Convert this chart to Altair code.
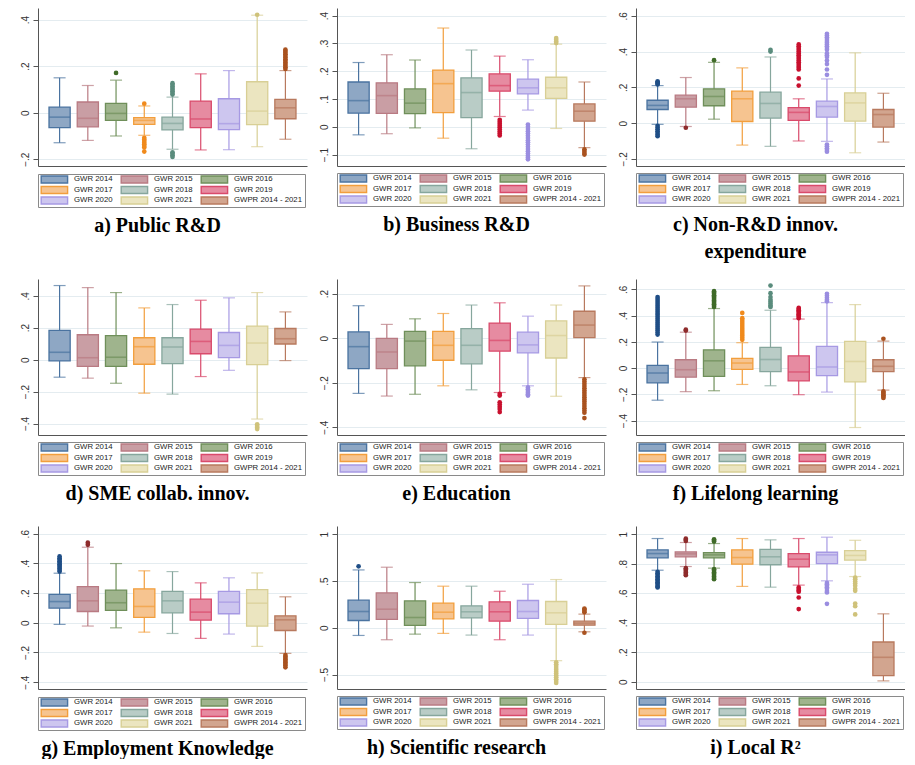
import altair as alt
import pandas as pd

SERIES = ["GWR 2014", "GWR 2015", "GWR 2016", "GWR 2017", "GWR 2018",
          "GWR 2019", "GWR 2020", "GWR 2021", "GWPR 2014 - 2021"]

FILL = ["#8ea7c4", "#c99ea4", "#9fb48d", "#f6c490", "#b9ccc6",
        "#e68ba1", "#cdc6ef", "#ebe5c0", "#d2a58f"]
LINE = ["#4a73a0", "#b97a82", "#6f8f5a", "#f29e3c", "#86a69d",
        "#d94a6b", "#a699e3", "#d8cf95", "#b8795e"]
DOT = ["#1f4e86", "#8e2b2b", "#3f6b28", "#f08a1c", "#5a8c7d",
       "#c8102e", "#9a8de0", "#cfc27a", "#a9521f"]

# each row: lower whisker, q1, median, q3, upper whisker
PUBLIC_RD = [[-0.129, -0.064, -0.019, 0.024, 0.150], [-0.119, -0.061, -0.024, 0.046, 0.117],
             [-0.100, -0.033, -0.003, 0.040, 0.140], [-0.097, -0.050, -0.033, -0.021, 0.029],
             [-0.157, -0.074, -0.046, -0.019, 0.067], [-0.160, -0.064, -0.027, 0.050, 0.167],
             [-0.159, -0.073, -0.047, 0.060, 0.181], [-0.146, -0.051, 0.007, 0.133, 0.419],
             [-0.114, -0.026, 0.021, 0.057, 0.181]]
PUBLIC_RD_OUT = [[], [], [0.171],
                 [0.039, -0.108, -0.115, -0.122, -0.129, -0.136, -0.143, -0.150, -0.167],
                 [0.078, 0.085, 0.092, 0.099, 0.106, 0.113, 0.120, 0.127, -0.170, -0.176, -0.183, -0.190],
                 [], [], [0.421],
                 [0.188, 0.195, 0.202, 0.209, 0.216, 0.223, 0.230, 0.237, 0.244, 0.251, 0.258, 0.265, 0.271]]

BUSINESS_RD = [[-0.029, 0.049, 0.094, 0.161, 0.231], [-0.025, 0.048, 0.112, 0.158, 0.259],
               [-0.004, 0.047, 0.085, 0.136, 0.240], [-0.041, 0.051, 0.155, 0.204, 0.355],
               [-0.079, 0.033, 0.123, 0.176, 0.276], [0.037, 0.128, 0.148, 0.190, 0.254],
               [0.060, 0.118, 0.140, 0.171, 0.241], [-0.006, 0.102, 0.140, 0.178, 0.297],
               [-0.075, 0.020, 0.056, 0.082, 0.161]]
BUSINESS_RD_OUT = [[], [], [], [], [],
                   [0.025, 0.018, 0.011, 0.004, -0.003, -0.010, -0.017, -0.024, -0.031],
                   [0.008, 0.0, -0.008, -0.016, -0.024, -0.032, -0.040, -0.048, -0.056, -0.064,
                    -0.072, -0.080, -0.088, -0.096, -0.104, -0.110, -0.117],
                   [0.301, 0.307, 0.313, 0.319],
                   [-0.081, -0.087, -0.094, -0.100]]

NONRD = [[-0.007, 0.076, 0.099, 0.128, 0.210], [-0.019, 0.089, 0.136, 0.156, 0.255],
         [0.022, 0.097, 0.149, 0.192, 0.340], [-0.123, 0.009, 0.136, 0.179, 0.309],
         [-0.130, 0.028, 0.110, 0.173, 0.370], [-0.100, 0.015, 0.060, 0.087, 0.136],
         [-0.102, 0.033, 0.093, 0.123, 0.247], [-0.166, 0.011, 0.113, 0.169, 0.393],
         [-0.106, -0.022, 0.048, 0.076, 0.167]]
NONRD_OUT = [[0.216, 0.222, 0.228, 0.234, -0.015, -0.025, -0.035, -0.045, -0.055, -0.065, -0.073],
             [-0.026], [0.352], [], [0.400, 0.410],
             [0.210, 0.250, 0.300, 0.310, 0.320, 0.330, 0.340, 0.350, 0.360, 0.370, 0.380, 0.390,
              0.400, 0.410, 0.420, 0.430, 0.440],
             [0.270, 0.300, 0.330, 0.350, 0.370, 0.380, 0.390, 0.410, 0.420, 0.430, 0.440, 0.450,
              0.460, 0.470, 0.480, 0.490, 0.500, -0.120, -0.130, -0.140, -0.150, -0.160],
             [], []]

SME = [[-0.110, -0.008, 0.046, 0.183, 0.464], [-0.116, -0.042, 0.012, 0.156, 0.451],
       [-0.148, -0.042, 0.015, 0.150, 0.420], [-0.210, -0.029, 0.081, 0.137, 0.324],
       [-0.216, -0.025, 0.079, 0.137, 0.345], [-0.106, 0.037, 0.114, 0.191, 0.372],
       [-0.067, 0.012, 0.089, 0.170, 0.387], [-0.372, -0.031, 0.104, 0.210, 0.420],
       [-0.006, 0.098, 0.131, 0.195, 0.299]]
SME_OUT = [[], [], [], [], [], [], [], [-0.405, -0.415, -0.425, -0.435], []]

EDUCATION = [[-0.248, -0.137, -0.038, 0.028, 0.146], [-0.260, -0.137, -0.062, -0.001, 0.062],
             [-0.252, -0.124, -0.013, 0.031, 0.087], [-0.214, -0.099, -0.032, 0.031, 0.111],
             [-0.232, -0.115, -0.032, 0.043, 0.149], [-0.244, -0.058, -0.010, 0.068, 0.159],
             [-0.214, -0.066, -0.030, 0.027, 0.099], [-0.261, -0.089, 0.012, 0.078, 0.149],
             [-0.177, 0.003, 0.059, 0.121, 0.235]]
EDUCATION_OUT = [[], [], [], [], [],
                 [-0.250, -0.258, -0.288, -0.298, -0.308, -0.318, -0.332],
                 [-0.221, -0.229, -0.237, -0.245, -0.252, -0.258],
                 [],
                 [-0.185, -0.195, -0.205, -0.215, -0.225, -0.235, -0.245, -0.255, -0.265, -0.275,
                  -0.285, -0.295, -0.305, -0.315, -0.325, -0.335, -0.359]]

LIFELONG = [[-0.245, -0.113, -0.038, 0.020, 0.198], [-0.180, -0.070, -0.013, 0.063, 0.273],
            [-0.173, -0.063, 0.055, 0.138, 0.453], [-0.125, -0.010, 0.038, 0.073, 0.193],
            [-0.135, -0.028, 0.065, 0.158, 0.440], [-0.203, -0.098, -0.030, 0.093, 0.373],
            [-0.183, -0.058, 0.008, 0.165, 0.498], [-0.453, -0.105, 0.050, 0.203, 0.483],
            [-0.168, -0.028, 0.013, 0.063, 0.205]]
LIFELONG_OUT = [[0.255, 0.27, 0.285, 0.30, 0.315, 0.33, 0.345, 0.36, 0.375, 0.39, 0.405, 0.42,
                 0.435, 0.45, 0.465, 0.48, 0.495, 0.51, 0.525, 0.54],
                [0.285, 0.292],
                [0.465, 0.475, 0.485, 0.495, 0.505, 0.515, 0.525, 0.535, 0.545, 0.555, 0.565, 0.575, 0.585],
                [0.215, 0.23, 0.245, 0.26, 0.275, 0.29, 0.305, 0.32, 0.335, 0.35, 0.365, 0.38, 0.42],
                [0.465, 0.475, 0.49, 0.505, 0.52, 0.54, 0.57, 0.628],
                [0.38, 0.39, 0.40, 0.41, 0.42, 0.43, 0.44, 0.45, 0.458],
                [0.508, 0.52, 0.535, 0.55, 0.565],
                [],
                [0.223, -0.178, -0.188, -0.198, -0.208, -0.218, -0.228]]

EMPLOYMENT = [[-0.011, 0.099, 0.143, 0.191, 0.334], [-0.022, 0.076, 0.148, 0.244, 0.509],
              [-0.034, 0.083, 0.135, 0.220, 0.399], [-0.063, 0.036, 0.110, 0.229, 0.350],
              [-0.072, 0.067, 0.148, 0.211, 0.345], [-0.105, 0.018, 0.072, 0.159, 0.269],
              [-0.076, 0.061, 0.139, 0.211, 0.303], [-0.159, -0.022, 0.132, 0.224, 0.336],
              [-0.206, -0.052, 0.020, 0.047, 0.175]]
EMPLOYMENT_OUT = [[0.345, 0.355, 0.365, 0.375, 0.385, 0.395, 0.405, 0.415, 0.425, 0.435, 0.447],
                  [0.525, 0.54], [], [], [], [], [], [],
                  [-0.217, -0.227, -0.237, -0.247, -0.257, -0.267, -0.277, -0.287, -0.300]]

SCIENTIFIC = [[-0.082, 0.078, 0.174, 0.295, 0.619], [-0.128, 0.089, 0.199, 0.374, 0.648],
              [-0.068, 0.025, 0.110, 0.288, 0.484], [-0.060, 0.096, 0.167, 0.263, 0.445],
              [-0.078, 0.107, 0.171, 0.235, 0.445], [-0.128, 0.071, 0.171, 0.278, 0.391],
              [-0.078, 0.100, 0.174, 0.292, 0.466], [-0.352, 0.036, 0.160, 0.281, 0.516],
              [-0.043, 0.028, 0.050, 0.071, 0.146]]
SCIENTIFIC_OUT = [[0.658], [], [], [], [], [], [],
                  [-0.37, -0.39, -0.41, -0.43, -0.45, -0.47, -0.49, -0.51, -0.53, -0.55, -0.57, -0.59],
                  [0.165, 0.18, 0.195, 0.205, -0.053]]

LOCAL_R2 = [[0.756, 0.840, 0.869, 0.894, 0.971], [0.781, 0.847, 0.867, 0.880, 0.944],
            [0.770, 0.840, 0.860, 0.876, 0.937], [0.646, 0.797, 0.842, 0.894, 0.971],
            [0.641, 0.793, 0.847, 0.898, 0.962], [0.655, 0.779, 0.831, 0.869, 0.971],
            [0.684, 0.801, 0.860, 0.878, 0.980], [0.713, 0.824, 0.856, 0.889, 0.959],
            [0.005, 0.041, 0.165, 0.269, 0.460]]
LOCAL_R2_OUT = [[0.745, 0.735, 0.725, 0.715, 0.705, 0.695, 0.685, 0.675, 0.665, 0.655, 0.645, 0.639],
                [0.955, 0.962, 0.970, 0.770, 0.760, 0.750, 0.740, 0.730, 0.722],
                [0.950, 0.958, 0.966, 0.763, 0.753, 0.743, 0.733, 0.723, 0.713, 0.703, 0.695],
                [], [],
                [0.639, 0.628, 0.618, 0.610, 0.571, 0.492],
                [0.670, 0.660, 0.650, 0.640, 0.630, 0.615, 0.605, 0.528],
                [0.706, 0.695, 0.680, 0.665, 0.650, 0.630, 0.616, 0.530, 0.512, 0.456],
                []]

LABEL_EXPR = "replace(format(datum.value, '.1~f'), '0.', '.')"

PW = 269
LW = 267


def make_panel(stats, outs, ticks, ydom, caption, h):
    df = pd.DataFrame([dict(series=s, lo=v[0], q1=v[1], med=v[2], q3=v[3], hi=v[4],
                            fillc=FILL[i], linec=LINE[i])
                       for i, (s, v) in enumerate(zip(SERIES, stats))])
    od = pd.DataFrame([dict(series=s, v=v, dotc=DOT[i])
                       for i, (s, vals) in enumerate(zip(SERIES, outs)) for v in vals],
                      columns=["series", "v", "dotc"])
    xenc = alt.X("series:N", sort=SERIES,
                 scale=alt.Scale(domain=SERIES, paddingInner=0.25, paddingOuter=0.39),
                 axis=alt.Axis(title=None, labels=False, ticks=False, grid=False,
                               domainColor="#555555", domainWidth=1))
    ysc = alt.Scale(domain=ydom, nice=False, zero=False)
    yax = alt.Axis(values=ticks, title=None, labelAngle=270, labelAlign="center",
                   labelBaseline="bottom", labelExpr=LABEL_EXPR, labelFont="Liberation Sans",
                   labelFontSize=10, labelColor="#333333", tickSize=5, tickColor="#555555",
                   domainColor="#555555", gridColor="#e4ecf0", grid=True, minExtent=30,
                   labelPadding=3)

    def Y(f):
        return alt.Y(f"{f}:Q", scale=ysc, axis=yax)

    linec = alt.Color("linec:N", scale=None)
    base = alt.Chart(df).encode(x=xenc)
    whisk = base.mark_rule(strokeWidth=1.2).encode(y=Y("lo"), y2="hi", color=linec)
    caplo = base.mark_tick(thickness=1.2, size=12).encode(y=Y("lo"), color=linec)
    caphi = base.mark_tick(thickness=1.2, size=12).encode(y=Y("hi"), color=linec)
    box = base.mark_bar(strokeWidth=1.3).encode(
        y=Y("q1"), y2="q3",
        fill=alt.Fill("fillc:N", scale=None),
        stroke=alt.Stroke("linec:N", scale=None))
    med = base.mark_tick(thickness=1.6, size=21).encode(y=Y("med"), color=linec)
    dots = alt.Chart(od).mark_circle(size=22, opacity=1).encode(
        x=xenc, y=Y("v"), color=alt.Color("dotc:N", scale=None))
    plot = alt.layer(whisk, caplo, caphi, box, med, dots).properties(width=PW, height=h)

    ld = pd.DataFrame({"series": SERIES, "fillc": FILL, "linec": LINE,
                       "col": [i % 3 for i in range(9)], "row": [i // 3 for i in range(9)]})
    ld["x0"] = ld["col"] + 0.04
    ld["x1"] = ld["col"] + 0.37
    ld["xt"] = ld["col"] + 0.45
    ld["y0"] = ld["row"] - 0.33
    ld["y1"] = ld["row"] + 0.33
    lx = alt.Scale(domain=[0, LW / 80.0], nice=False, zero=False)
    ly = alt.Scale(domain=[-0.52, 2.62], reverse=True, nice=False, zero=False)
    sw = alt.Chart(ld).mark_rect(strokeWidth=1.4).encode(
        x=alt.X("x0:Q", scale=lx, axis=None), x2="x1",
        y=alt.Y("y0:Q", scale=ly, axis=None), y2="y1",
        fill=alt.Fill("fillc:N", scale=None), stroke=alt.Stroke("linec:N", scale=None))
    tx = alt.Chart(ld).mark_text(align="left", baseline="middle", fontSize=7.8,
                                 font="Liberation Sans", color="#222222", limit=70).encode(
        x=alt.X("xt:Q", scale=lx, axis=None), y=alt.Y("row:Q", scale=ly, axis=None),
        text="series:N")
    leg = alt.layer(sw, tx).properties(
        width=LW, height=33, view=alt.ViewBackground(stroke="#8a8a8a", strokeWidth=1))

    return alt.vconcat(plot, leg, spacing=6).properties(
        title=alt.TitleParams(caption, orient="bottom", anchor="middle",
                              font="Liberation Serif", fontSize=20, fontWeight="bold",
                              color="black", offset=8, lineHeight=27))


pa = make_panel(PUBLIC_RD, PUBLIC_RD_OUT, [-0.2, 0, 0.2, 0.4], [-0.229, 0.45], "a) Public R&D", 158)
pb = make_panel(BUSINESS_RD, BUSINESS_RD_OUT, [-0.1, 0, 0.1, 0.2, 0.3, 0.4], [-0.141, 0.427],
                "b) Business R&D", 158)
pc = make_panel(NONRD, NONRD_OUT, [-0.2, 0, 0.2, 0.4, 0.6], [-0.24, 0.644],
                ["c) Non-R&D innov.", "expenditure"], 158)
pd_ = make_panel(SME, SME_OUT, [-0.4, -0.2, 0, 0.2, 0.4], [-0.472, 0.505], "d) SME collab. innov.", 156)
pe = make_panel(EDUCATION, EDUCATION_OUT, [-0.4, -0.2, 0, 0.2], [-0.435, 0.266], "e) Education", 156)
pf = make_panel(LIFELONG, LIFELONG_OUT, [-0.4, -0.2, 0, 0.2, 0.4, 0.6], [-0.51, 0.678],
                "f) Lifelong learning", 156)
pg = make_panel(EMPLOYMENT, EMPLOYMENT_OUT, [-0.4, -0.2, 0, 0.2, 0.4, 0.6], [-0.446, 0.652],
                "g) Employment Knowledge", 163)
ph = make_panel(SCIENTIFIC, SCIENTIFIC_OUT, [-0.5, 0, 0.5, 1], [-0.655, 1.089],
                "h) Scientific research", 163)
pi = make_panel(LOCAL_R2, LOCAL_R2_OUT, [0, 0.2, 0.4, 0.6, 0.8, 1], [-0.05, 1.056],
                "i) Local R²", 163)

row1 = alt.hconcat(pa, pb, pc, spacing=0)
row2 = alt.hconcat(pd_, pe, pf, spacing=0)
row3 = alt.hconcat(pg, ph, pi, spacing=0)

top = alt.vconcat(row1, row2, spacing=17)
chart = alt.vconcat(top, row3, spacing=22).properties(
    padding=0, background="white").configure_view(stroke=None)

chart.save("out.html", embed_options={"renderer": "svg", "actions": False})
